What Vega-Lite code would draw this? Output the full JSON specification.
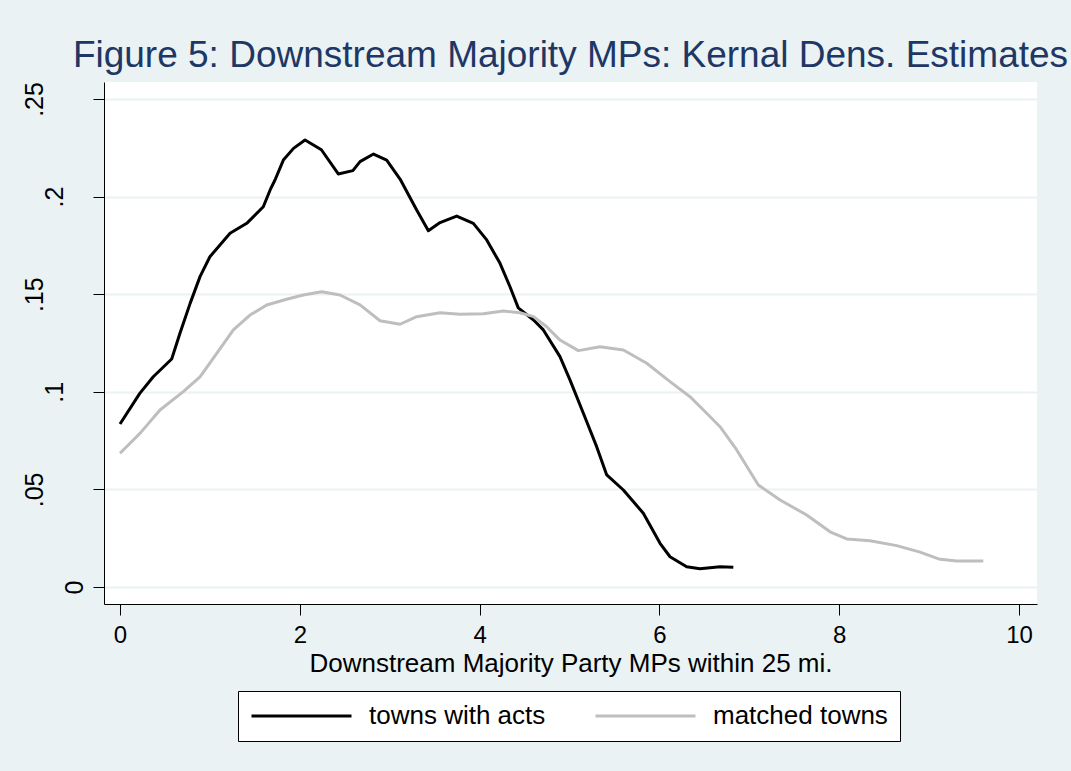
{
  "$schema": "https://vega.github.io/schema/vega-lite/v6.json",
  "width": 933,
  "height": 522,
  "autosize": {"type": "none"},
  "padding": {"left": 104, "top": 82, "right": 34, "bottom": 167},
  "background": "#EAF2F3",
  "title": {
    "text": "Figure 5: Downstream Majority MPs: Kernal Dens. Estimates",
    "fontSize": 37,
    "font": "Liberation Sans",
    "fontWeight": "normal",
    "color": "#1E3764",
    "anchor": "middle",
    "baseline": "alphabetic",
    "offset": 12,
    "dy": 34
  },
  "config": {
    "view": {"fill": "white", "stroke": null},
    "font": "Liberation Sans"
  },
  "data": {
    "values": [
      {"s": "towns with acts", "x": 0, "y": 0.0835},
      {"s": "towns with acts", "x": 0.22, "y": 0.0992},
      {"s": "towns with acts", "x": 0.37, "y": 0.1077},
      {"s": "towns with acts", "x": 0.575, "y": 0.1168},
      {"s": "towns with acts", "x": 0.667, "y": 0.130},
      {"s": "towns with acts", "x": 0.78, "y": 0.1453},
      {"s": "towns with acts", "x": 0.89, "y": 0.159},
      {"s": "towns with acts", "x": 1.0, "y": 0.1692},
      {"s": "towns with acts", "x": 1.224, "y": 0.1812},
      {"s": "towns with acts", "x": 1.41, "y": 0.1863},
      {"s": "towns with acts", "x": 1.594, "y": 0.1948},
      {"s": "towns with acts", "x": 1.67, "y": 0.2034},
      {"s": "towns with acts", "x": 1.724, "y": 0.2085},
      {"s": "towns with acts", "x": 1.817, "y": 0.2187},
      {"s": "towns with acts", "x": 1.93, "y": 0.2247},
      {"s": "towns with acts", "x": 2.058, "y": 0.229},
      {"s": "towns with acts", "x": 2.24, "y": 0.224},
      {"s": "towns with acts", "x": 2.428, "y": 0.2116},
      {"s": "towns with acts", "x": 2.59, "y": 0.2133},
      {"s": "towns with acts", "x": 2.67, "y": 0.2179},
      {"s": "towns with acts", "x": 2.82, "y": 0.2218},
      {"s": "towns with acts", "x": 2.966, "y": 0.2187},
      {"s": "towns with acts", "x": 3.115, "y": 0.209},
      {"s": "towns with acts", "x": 3.30, "y": 0.1931},
      {"s": "towns with acts", "x": 3.43, "y": 0.1825},
      {"s": "towns with acts", "x": 3.56, "y": 0.1867},
      {"s": "towns with acts", "x": 3.745, "y": 0.190},
      {"s": "towns with acts", "x": 3.93, "y": 0.1863},
      {"s": "towns with acts", "x": 4.079, "y": 0.1778},
      {"s": "towns with acts", "x": 4.227, "y": 0.1658},
      {"s": "towns with acts", "x": 4.338, "y": 0.1538},
      {"s": "towns with acts", "x": 4.43, "y": 0.1430},
      {"s": "towns with acts", "x": 4.6, "y": 0.1368},
      {"s": "towns with acts", "x": 4.709, "y": 0.1317},
      {"s": "towns with acts", "x": 4.894, "y": 0.118},
      {"s": "towns with acts", "x": 5.006, "y": 0.106},
      {"s": "towns with acts", "x": 5.154, "y": 0.089},
      {"s": "towns with acts", "x": 5.302, "y": 0.0719},
      {"s": "towns with acts", "x": 5.414, "y": 0.0574},
      {"s": "towns with acts", "x": 5.599, "y": 0.0497},
      {"s": "towns with acts", "x": 5.821, "y": 0.0378},
      {"s": "towns with acts", "x": 6.007, "y": 0.0224},
      {"s": "towns with acts", "x": 6.118, "y": 0.0155},
      {"s": "towns with acts", "x": 6.303, "y": 0.0104},
      {"s": "towns with acts", "x": 6.452, "y": 0.0094},
      {"s": "towns with acts", "x": 6.674, "y": 0.0104},
      {"s": "towns with acts", "x": 6.822, "y": 0.0101},
      {"s": "matched towns", "x": 0, "y": 0.0685},
      {"s": "matched towns", "x": 0.222, "y": 0.0787},
      {"s": "matched towns", "x": 0.445, "y": 0.0907},
      {"s": "matched towns", "x": 0.704, "y": 0.1001},
      {"s": "matched towns", "x": 0.89, "y": 0.1077},
      {"s": "matched towns", "x": 1.076, "y": 0.1197},
      {"s": "matched towns", "x": 1.261, "y": 0.1317},
      {"s": "matched towns", "x": 1.446, "y": 0.1393},
      {"s": "matched towns", "x": 1.632, "y": 0.1445},
      {"s": "matched towns", "x": 1.854, "y": 0.1474},
      {"s": "matched towns", "x": 2.039, "y": 0.1496},
      {"s": "matched towns", "x": 2.243, "y": 0.1513},
      {"s": "matched towns", "x": 2.447, "y": 0.1496},
      {"s": "matched towns", "x": 2.67, "y": 0.1445},
      {"s": "matched towns", "x": 2.892, "y": 0.1364},
      {"s": "matched towns", "x": 3.115, "y": 0.1346},
      {"s": "matched towns", "x": 3.30, "y": 0.1385},
      {"s": "matched towns", "x": 3.56, "y": 0.1405},
      {"s": "matched towns", "x": 3.782, "y": 0.1397},
      {"s": "matched towns", "x": 4.041, "y": 0.140},
      {"s": "matched towns", "x": 4.264, "y": 0.1414},
      {"s": "matched towns", "x": 4.449, "y": 0.1405},
      {"s": "matched towns", "x": 4.6, "y": 0.1385},
      {"s": "matched towns", "x": 4.746, "y": 0.1333},
      {"s": "matched towns", "x": 4.894, "y": 0.1265},
      {"s": "matched towns", "x": 5.098, "y": 0.1211},
      {"s": "matched towns", "x": 5.339, "y": 0.1231},
      {"s": "matched towns", "x": 5.599, "y": 0.1214},
      {"s": "matched towns", "x": 5.859, "y": 0.1146},
      {"s": "matched towns", "x": 6.118, "y": 0.1052},
      {"s": "matched towns", "x": 6.34, "y": 0.0975},
      {"s": "matched towns", "x": 6.526, "y": 0.089},
      {"s": "matched towns", "x": 6.674, "y": 0.0821},
      {"s": "matched towns", "x": 6.86, "y": 0.0702},
      {"s": "matched towns", "x": 7.10, "y": 0.0523},
      {"s": "matched towns", "x": 7.342, "y": 0.0446},
      {"s": "matched towns", "x": 7.638, "y": 0.0369},
      {"s": "matched towns", "x": 7.898, "y": 0.0283},
      {"s": "matched towns", "x": 8.083, "y": 0.0246},
      {"s": "matched towns", "x": 8.343, "y": 0.0237},
      {"s": "matched towns", "x": 8.64, "y": 0.0212},
      {"s": "matched towns", "x": 8.899, "y": 0.0179},
      {"s": "matched towns", "x": 9.121, "y": 0.0142},
      {"s": "matched towns", "x": 9.307, "y": 0.0133},
      {"s": "matched towns", "x": 9.603, "y": 0.0133}
    ]
  },
  "mark": {"type": "line", "strokeWidth": 3, "strokeJoin": "round"},
  "encoding": {
    "x": {
      "field": "x",
      "type": "quantitative",
      "scale": {"domain": [-0.178, 10.2], "nice": false, "zero": false},
      "axis": {
        "values": [0, 2, 4, 6, 8, 10],
        "grid": false,
        "domainColor": "black",
        "domainWidth": 1,
        "tickColor": "black",
        "tickSize": 11,
        "tickWidth": 1,
        "labelFontSize": 24,
        "labelColor": "black",
        "labelFont": "Liberation Sans",
        "labelPadding": 8,
        "labelFlush": false,
        "title": "Downstream Majority Party MPs within 25 mi.",
        "titleFontSize": 26,
        "titleFontWeight": "normal",
        "titleFont": "Liberation Sans",
        "titleColor": "black",
        "titlePadding": 3
      }
    },
    "y": {
      "field": "y",
      "type": "quantitative",
      "scale": {"domain": [-0.0087, 0.2587], "nice": false, "zero": false},
      "axis": {
        "values": [0, 0.05, 0.1, 0.15, 0.2, 0.25],
        "labelExpr": "datum.value == 0 ? '0' : replace(format(datum.value, '~g'), '0.', '.')",
        "grid": true,
        "gridColor": "#EAF2F3",
        "gridWidth": 2,
        "domainColor": "black",
        "domainWidth": 1,
        "tickColor": "black",
        "tickSize": 11,
        "tickWidth": 1,
        "labelFontSize": 25,
        "labelColor": "black",
        "labelFont": "Liberation Sans",
        "labelAngle": 270,
        "labelAlign": "center",
        "labelBaseline": "alphabetic",
        "labelFlush": false,
        "labelPadding": {
          "condition": [
            {"test": "datum.value == 0", "value": 11},
            {"test": "datum.value == 0.1 || datum.value == 0.2", "value": 31}
          ],
          "value": 51
        },
        "title": null
      }
    },
    "color": {
      "field": "s",
      "type": "nominal",
      "scale": {"domain": ["towns with acts", "matched towns"], "range": ["#000000", "#BEBEBE"]},
      "legend": {
        "title": null,
        "orient": "none",
        "legendX": 134,
        "legendY": 609,
        "direction": "horizontal",
        "symbolType": "stroke",
        "symbolSize": 10000,
        "symbolStrokeWidth": 3,
        "clipHeight": 26,
        "labelOffset": 16,
        "columnPadding": 48,
        "padding": 12,
        "strokeColor": "black",
        "fillColor": "white",
        "labelFontSize": 26,
        "labelFont": "Liberation Sans",
        "labelColor": "black",
        "labelLimit": 400
      }
    }
  }
}
